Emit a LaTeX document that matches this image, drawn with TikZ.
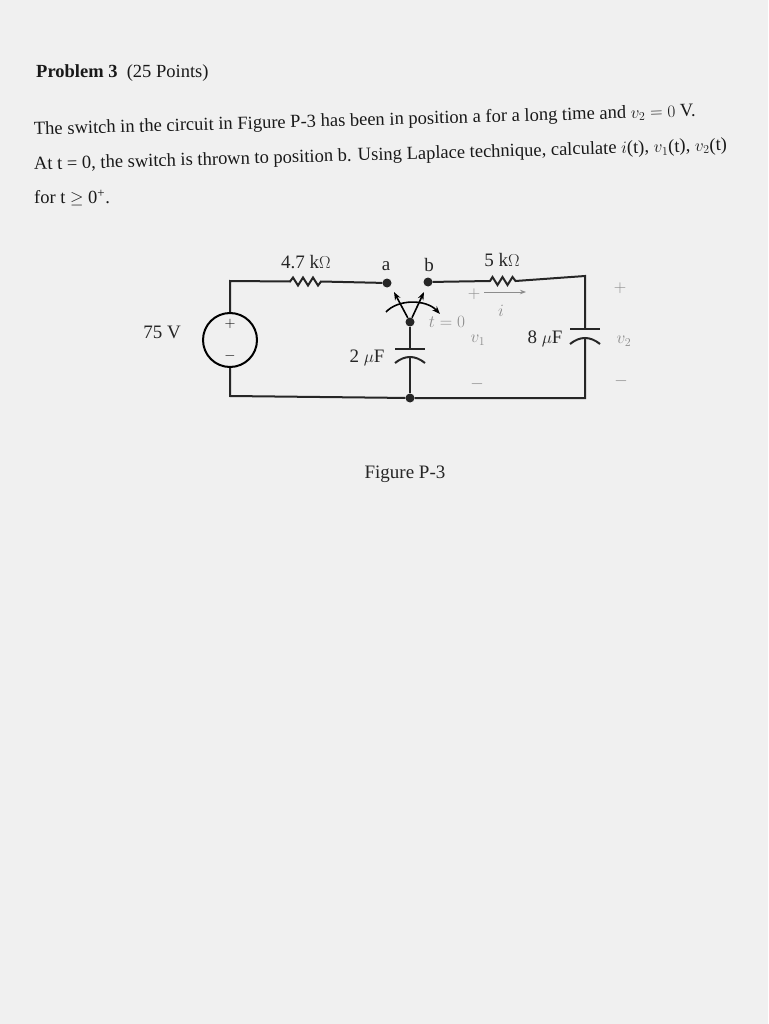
\documentclass[tikz,border=0pt]{standalone}
\usepackage{fontspec}
\setmainfont{Liberation Serif}
\usetikzlibrary{arrows.meta}
\begin{document}
\begin{tikzpicture}[x=1pt,y=-1pt,
  wire/.style={line width=2pt,color=black!85},
  dot/.style={circle,fill=black!85,inner sep=0pt,minimum size=9pt},
  lbl/.style={font=\fontsize{19}{22}\selectfont,text=black!85},
  faint/.style={font=\fontsize{17}{20}\selectfont,text=black!45},
  txt/.style={font=\fontsize{18.5}{22}\selectfont,text=black!90,anchor=base west,inner sep=0pt}]
\fill[black!6] (0,0) rectangle (768,1024);
\useasboundingbox (0,0) rectangle (768,1024);
% text
\node[txt] (t0) at (36,78) {\textbf{Problem 3} \ (25 Points)};
\node[txt,rotate=1.6] (t1) at (34,135) {The switch in the circuit in Figure P-3 has been in position a for a long time and $v_2=0$ V.};
\node[txt,rotate=1.6] (t2) at (34,170) {At t = 0, the switch is thrown to position b. Using Laplace technique, calculate $i$(t), $v_1$(t), $v_2$(t)};
\node[txt] (t3) at (34,204) {for t $\geq$ 0\textsuperscript{+}.};
\node[lbl] (fig) at (405,474) {Figure P-3};
% nodes
\coordinate (tl) at (230,281);
\coordinate (bl) at (230,396);
\coordinate (br) at (585,398);
\coordinate (tr) at (585,276);
\node[dot] (a) at (387,283) {};
\node[dot] (b) at (428,282) {};
\node[dot] (p) at (410,322) {};
\node[dot] (g) at (410,398) {};
\node[circle,draw,line width=2pt,minimum size=54pt] (src) at (230,340) {};
\node[font=\Large] at (230,324) {$+$};
\node[font=\Large] at (230,356) {$-$};
% wires
\draw[wire] (src.north) -- (tl) -- (290,281.5) -- ++(3,-4) -- ++(5,8) -- ++(5,-8) -- ++(5,8) -- ++(5,-8) -- ++(5,8) -- ++(3,-4) -- (a);
\draw[wire] (src.south) -- (bl) -- (g) -- (br) -- (585,338);
\draw[wire] (b) -- (490,281) -- ++(2.5,-4) -- ++(5,8) -- ++(5,-8) -- ++(5,8) -- ++(5,-8) -- ++(3,4) -- (tr) -- (585,329);
% 8uF
\draw[wire] (570,329) -- (600,329);
\draw[wire] (570,344) .. controls (580,336) and (590,336) .. (600,344);
% 2uF
\draw[wire] (p) -- (410,349) (395,349) -- (425,349);
\draw[wire] (395,363) .. controls (405,355) and (415,355) .. (425,363);
\draw[wire] (410,357) -- (g);
% switch
\draw[line width=1.6pt,-{Stealth[length=8pt]}] (p) -- (394,292);
\draw[line width=1.6pt,-{Stealth[length=8pt]}] (p) -- (424,292);
\draw[line width=1.6pt,-{Stealth[length=8pt]}] (386,312) .. controls (398,299) and (426,299) .. (440,314);
% labels
\node[lbl] at (306,262) {4.7 k$\Omega$};
\node[lbl] at (386,266) {a};
\node[lbl] at (429,265) {b};
\node[lbl] at (502,260) {5 k$\Omega$};
\node[lbl] at (162,332) {75 V};
\node[lbl] at (367,358) {2 $\mu$F};
\node[lbl] at (545,339) {8 $\mu$F};
\node[faint] at (447,322) {$t=0$};
\node[faint] at (478,340) {$v_1$};
\node[faint] at (474,294) {$+$};
\node[faint] at (477,384) {$-$};
\draw[black!45,line width=1pt,-{Stealth[length=6pt]}] (484,292) -- (526,292);
\node[faint] at (501,311) {$i$};
\node[faint] at (620,288) {$+$};
\node[faint] at (624,341) {$v_2$};
\node[faint] at (621,381) {$-$};
\end{tikzpicture}
\end{document}
